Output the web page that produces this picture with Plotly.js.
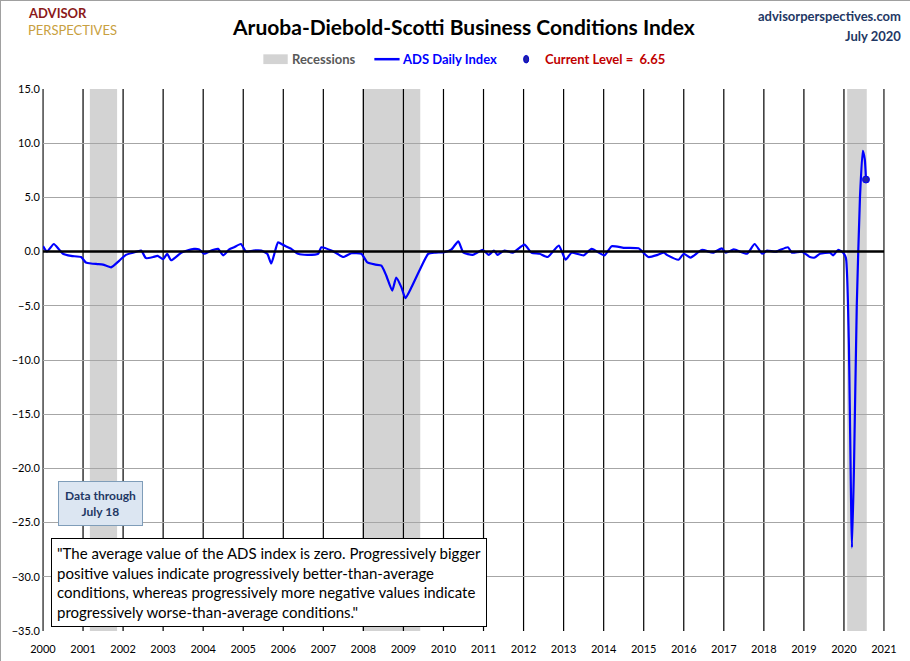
<!DOCTYPE html>
<html><head><meta charset="utf-8">
<script src="https://cdn.plot.ly/plotly-3.0.1.min.js"></script>
<style>
body{margin:0;background:#fff}
#chart{width:910px;height:661px;box-sizing:border-box;border:1px solid #a0a0a0}
</style></head><body>
<div id="chart"></div>
<script>
// ADS index (decimal years)
const dates = [2000.0, 2000.1, 2000.27, 2000.4, 2000.5, 2000.7, 2000.95, 2001.07, 2001.2, 2001.36, 2001.5, 2001.7, 2001.9,
  2002.07, 2002.25, 2002.45, 2002.57, 2002.75, 2002.86, 2003.0, 2003.1, 2003.2, 2003.45, 2003.6, 2003.77, 2003.9, 2004.02,
  2004.2, 2004.37, 2004.5, 2004.65, 2004.77, 2004.94, 2005.07, 2005.25, 2005.45, 2005.6, 2005.7, 2005.87, 2006.0, 2006.2,
  2006.37, 2006.6, 2006.87, 2006.95, 2007.2, 2007.35, 2007.5, 2007.7, 2007.95, 2008.1, 2008.3, 2008.45, 2008.57, 2008.72,
  2008.82, 2008.95, 2009.05, 2009.2, 2009.4, 2009.62, 2009.8, 2010.02, 2010.2, 2010.37, 2010.5, 2010.73, 2010.98, 2011.13,
  2011.26, 2011.35, 2011.52, 2011.73, 2012.02, 2012.2, 2012.4, 2012.6, 2012.88, 2013.05, 2013.2, 2013.5, 2013.7, 2014.02,
  2014.2, 2014.5, 2014.87, 2015.12, 2015.35, 2015.5, 2015.6, 2015.87, 2016.0, 2016.17, 2016.45, 2016.73, 2016.95, 2017.05,
  2017.25, 2017.58, 2017.77, 2017.96, 2018.08, 2018.3, 2018.6, 2018.7, 2018.95, 2019.15, 2019.27, 2019.4, 2019.65, 2019.73,
  2019.85, 2019.98, 2020.05, 2020.12, 2020.2, 2020.25, 2020.32, 2020.4, 2020.47, 2020.52, 2020.55];
const adsValues = [0.5, 0.0, 0.7, 0.2, -0.2, -0.4, -0.5, -1.0, -1.1, -1.15, -1.2, -1.45, -0.85,
  -0.3, -0.1, 0.1, -0.6, -0.5, -0.4, -0.7, -0.2, -0.8, -0.1, 0.1, 0.25, 0.2, -0.2,
  0.1, 0.25, -0.35, 0.2, 0.4, 0.7, 0.0, 0.1, 0.1, -0.2, -1.1, 0.85, 0.6, 0.25,
  -0.2, -0.3, -0.2, 0.4, 0.1, -0.2, -0.5, -0.15, -0.2, -1.0, -1.2, -1.3, -2.2, -3.6,
  -2.4, -3.3, -4.3, -3.3, -1.75, -0.2, -0.1, -0.05, 0.2, 0.95, -0.1, -0.3, 0.15, -0.3,
  0.1, -0.3, 0.1, -0.1, 0.65, -0.1, -0.2, -0.5, 0.55, -0.75, -0.1, -0.35, 0.25, -0.35,
  0.5, 0.35, 0.3, -0.5, -0.3, -0.1, -0.35, -0.75, -0.2, -0.55, 0.15, -0.1, 0.3, -0.1,
  0.2, -0.2, 0.7, -0.2, 0.1, 0.0, 0.4, -0.1, 0.0, -0.5, -0.55, -0.2, -0.1, -0.35,
  0.15, -0.1, -0.6, -8.0, -27.3, -20.0, -5.0, 5.0, 9.3, 8.5, 6.65];
const recessions = [[2001.17, 2001.85], [2007.97, 2009.42], [2020.08, 2020.57]];
const yearTicks = [2000, 2001, 2002, 2003, 2004, 2005, 2006, 2007, 2008, 2009, 2010, 2011, 2012, 2013, 2014, 2015, 2016, 2017, 2018, 2019, 2020, 2021];
const yTicks = [15, 10, 5, 0, -5, -10, -15, -20, -25, -30, -35];
const currentLevel = 6.65;
const currentDate = 2020.55;

const font = 'Lato, "Open Sans", sans-serif';

const shapes = recessions.map(r => ({
  type: 'rect', xref: 'x', yref: 'paper', x0: r[0], x1: r[1], y0: 0, y1: 1,
  fillcolor: '#d3d3d3', line: { width: 0 }, layer: 'below'
}));
yearTicks.forEach(y => shapes.push({
  type: 'line', xref: 'x', yref: 'paper', x0: y, x1: y, y0: 0, y1: 1,
  line: { color: '#000', width: 1.2 }, layer: 'below'
}));
shapes.push({ type: 'line', xref: 'paper', yref: 'y', x0: 0, x1: 1, y0: 0, y1: 0, line: { color: '#000', width: 2.5 } });
// legend swatches
shapes.push({ type: 'rect', xref: 'paper', yref: 'paper', x0: 0.262, x1: 0.291, y0: 1.046, y1: 1.064, fillcolor: '#d3d3d3', line: { width: 0 } });
shapes.push({ type: 'line', xref: 'paper', yref: 'paper', x0: 0.394, x1: 0.424, y0: 1.055, y1: 1.055, line: { color: '#0000ff', width: 2.5 } });
shapes.push({ type: 'circle', xref: 'paper', yref: 'paper', x0: 0.5715, x1: 0.5775, y0: 1.048, y1: 1.062, fillcolor: '#2222aa', line: { color: '#0000cc', width: 1 } });

const ann = (text, x, y, opts) => Object.assign({ text, x, y, xref: 'paper', yref: 'paper', showarrow: false, yanchor: 'middle' }, opts);

const annotations = [
  ann('<b>Aruoba-Diebold-Scotti Business Conditions Index</b>', 0.5, 1.116, { font: { family: font, size: 21, color: '#000' }, xanchor: 'center' }),
  ann('<b>advisorperspectives.com</b>', 1.023, 1.135, { font: { family: font, size: 13, color: '#1f3864' }, xanchor: 'right' }),
  ann('<b>July 2020</b>', 1.023, 1.098, { font: { family: font, size: 13, color: '#1f3864' }, xanchor: 'right' }),
  ann('<b>ADVISOR</b>', -0.02, 1.14, { font: { family: font, size: 13, color: '#8b1a1a' }, xanchor: 'left' }),
  ann('PERSPECTIVES', -0.02, 1.109, { font: { family: font, size: 13, color: '#c8a040' }, xanchor: 'left' }),
  ann('<b>Recessions</b>', 0.294, 1.055, { font: { family: font, size: 13, color: '#595959' }, xanchor: 'left' }),
  ann('<b>ADS Daily Index</b>', 0.425, 1.055, { font: { family: font, size: 13, color: '#0000ff' }, xanchor: 'left' }),
  ann('<b>Current Level =  ' + currentLevel.toFixed(2) + '</b>', 0.594, 1.055, { font: { family: font, size: 13, color: '#c00000' }, xanchor: 'left' }),
  ann('<b>Data through<br>July 18</b>', 0.068, 0.236, { font: { family: font, size: 12, color: '#1f3864' },
    bgcolor: '#dce6f2', bordercolor: '#7f9db9', borderwidth: 1, borderpad: 6, xanchor: 'center' }),
  ann('"The average value of the ADS index is zero. Progressively bigger<br>positive values indicate progressively better-than-average<br>conditions, whereas progressively more negative values indicate<br>progressively worse-than-average conditions."',
    0.01, 0.172, { font: { family: font, size: 15, color: '#000' }, align: 'left', bgcolor: '#fff', bordercolor: '#000', borderwidth: 1, borderpad: 5, xanchor: 'left', yanchor: 'top' })
];

const traces = [
  { x: dates, y: adsValues, mode: 'lines', line: { color: '#0000ff', width: 2.2, shape: 'spline', smoothing: 0.5 }, type: 'scatter', hoverinfo: 'x+y' },
  { x: [currentDate], y: [currentLevel], mode: 'markers', marker: { color: '#2222aa', size: 7, line: { color: '#0000ff', width: 1 } }, type: 'scatter' }
];

const layout = {
  width: 910, height: 661,
  margin: { l: 42, r: 27, t: 88, b: 31 },
  paper_bgcolor: '#fff', plot_bgcolor: '#fff',
  showlegend: false,
  font: { family: font, size: 11, color: '#000' },
  xaxis: {
    range: [2000, 2021], tickvals: yearTicks, ticktext: yearTicks.map(String),
    showgrid: false, zeroline: false, showline: false, ticks: 'outside', ticklen: 8, tickcolor: 'rgba(0,0,0,0)', fixedrange: true,
    tickfont: { size: 11 }
  },
  yaxis: {
    range: [-35, 15], tickvals: yTicks, tickformat: '.1f',
    showgrid: true, gridcolor: '#a6a6a6', gridwidth: 1, zeroline: false,
    showline: true, linecolor: '#808080', mirror: true, ticks: '', fixedrange: true,
    tickfont: { size: 11 }
  },
  shapes, annotations
};

Plotly.newPlot('chart', traces, layout, { displayModeBar: false });
</script>
</body></html>
